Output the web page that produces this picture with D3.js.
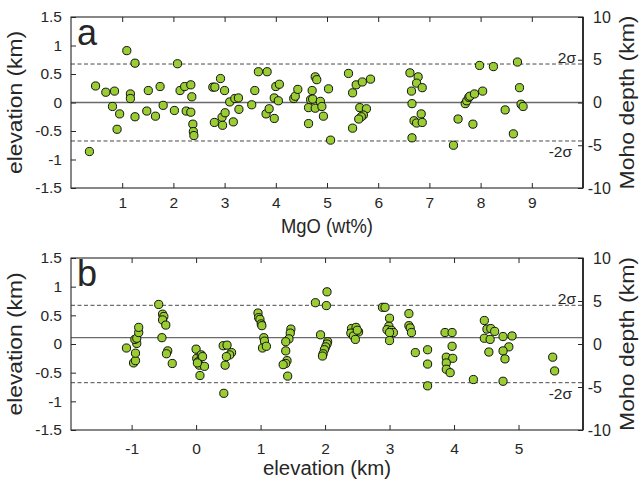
<!DOCTYPE html>
<html>
<head>
<meta charset="utf-8">
<script src="https://cdn.jsdelivr.net/npm/d3@7"></script>
<style>
  html, body { margin: 0; padding: 0; background: #fff; }
  text { font-family: Arial, "Liberation Sans", Helvetica, sans-serif; fill: #262626; }
</style>
</head>
<body>
<svg id="chart" width="639" height="480"></svg>
<script>
// Panel a: elevation residual vs MgO
const mgoX = [0.36,0.48,0.68,0.85,0.81,0.95,0.90,1.09,1.16,1.16,1.25,1.25,1.48,1.51,1.65,1.74,1.80,2.02,2.08,2.13,2.22,2.25,2.34,2.36,2.34,2.38,2.39,2.40,2.77,2.81,2.92,3.00,2.80,2.95,3.01,2.96,3.17,3.10,3.20,3.27,3.28,3.53,3.59,3.66,3.83,3.81,3.87,3.97,3.97,4.00,4.07,4.05,4.35,4.38,4.43,4.64,4.64,4.68,4.71,4.72,4.77,4.80,4.77,4.87,4.90,4.93,5.03,5.07,5.42,5.50,5.57,5.69,5.85,5.64,5.77,5.71,5.67,5.62,5.50,6.62,6.78,6.75,6.86,6.65,6.66,6.84,6.70,6.75,6.86,6.66,7.47,7.56,7.85,7.70,7.73,7.77,7.79,7.88,8.04,7.98,8.25,8.48,8.72,8.76,8.64,8.79,8.83];
const mgoElev = [-0.86,0.29,0.18,0.20,-0.07,-0.20,-0.47,0.91,0.15,0.07,0.69,-0.25,-0.15,0.21,-0.24,0.28,-0.05,-0.14,0.68,0.21,0.28,-0.15,0.31,0.10,-0.17,-0.38,-0.51,-0.58,0.27,0.27,0.42,0.21,-0.35,-0.26,-0.18,-0.40,-0.34,0.01,0.07,0.08,-0.12,-0.04,0.21,0.54,0.54,-0.20,-0.11,-0.28,0.08,0.28,0.32,0.03,0.07,0.11,0.23,-0.37,-0.09,0.05,0.21,0.06,0.45,0.40,-0.10,0.02,-0.07,-0.24,0.24,-0.66,0.51,0.17,0.31,0.36,0.41,-0.09,-0.11,-0.22,-0.25,-0.29,-0.45,0.52,0.45,0.34,0.26,0.20,-0.02,-0.20,-0.32,-0.36,-0.35,-0.62,-0.75,-0.29,-0.38,-0.02,0.03,0.09,0.11,0.15,0.20,0.65,0.63,-0.13,0.71,0.26,-0.55,-0.03,-0.07];

// Panel b: elevation residual vs elevation
const elevX = [-1.08,-0.97,-0.94,-0.94,-0.92,-0.95,-0.92,-0.89,-0.89,
  -0.58,-0.52,-0.50,-0.52,-0.47,-0.53,-0.44,-0.46,-0.37,
  0.00,0.01,0.03,0.05,0.08,0.10,0.13,0.06,0.02,
  0.42,0.48,0.55,0.52,0.47,0.45,0.43,
  0.96,0.97,0.99,1.01,1.02,1.05,1.06,1.03,1.09,
  1.47,1.46,1.44,1.39,1.39,1.41,1.39,1.35,1.42,
  1.85,2.03,2.02,1.93,2.04,2.03,2.01,1.99,1.97,1.96,
  2.41,2.48,2.52,2.40,2.44,2.47,2.50,
  2.89,2.93,3.00,2.99,2.96,3.03,3.06,3.00,3.00,
  3.30,3.30,3.32,3.34,3.40,
  3.59,3.59,3.59,
  3.86,3.97,3.97,3.88,3.98,3.88,3.88,3.94,
  4.30,
  4.47,4.51,4.57,4.63,4.47,4.56,4.54,4.76,4.90,4.85,4.76,4.79,4.76,
  5.53,5.56];
const elevResid = [-0.07,-0.33,-0.29,-0.16,0.01,0.08,0.10,0.20,0.29,
  0.69,0.52,0.48,0.42,0.33,0.11,-0.12,-0.17,-0.34,
  -0.09,-0.25,-0.31,-0.37,-0.19,-0.22,-0.39,-0.55,-0.33,
  -0.03,-0.02,-0.15,-0.19,-0.22,-0.37,-0.86,
  0.54,0.46,0.43,0.35,0.32,0.11,0.05,-0.07,-0.04,
  0.26,0.19,0.09,0.04,-0.12,-0.29,-0.34,-0.36,-0.56,
  0.72,0.91,0.67,0.16,0.04,0.00,-0.05,-0.10,-0.17,-0.21,
  0.27,0.29,0.21,0.19,0.14,0.08,0.24,
  0.64,0.64,0.45,0.31,0.25,0.24,0.20,0.20,0.06,
  0.53,0.32,0.28,0.20,-0.15,
  -0.10,-0.35,-0.73,
  0.20,0.20,-0.04,-0.23,-0.25,-0.33,-0.44,-0.50,
  -0.62,
  0.41,0.26,0.27,0.22,0.10,0.08,-0.14,0.13,0.14,-0.05,-0.12,-0.26,-0.65,
  -0.23,-0.47];

const elevTicks = [-1.5, -1, -0.5, 0, 0.5, 1, 1.5];
const mohoTicks = [-10, -5, 0, 5, 10];
const mgoTicks = [1, 2, 3, 4, 5, 6, 7, 8, 9];
const elevAxisTicks = [-1, 0, 1, 2, 3, 4, 5];
const twoSigma = 0.675;
const meanA = 0;
const meanB = 0.11;

const svg = d3.select("#chart");
const L = 71, R = 583;

function panel(cfg) {
  const g = svg.append("g");
  const x = d3.scaleLinear().domain(cfg.xDomain).range([L, R]);
  const y = d3.scaleLinear().domain([-1.5, 1.5]).range([cfg.bottom, cfg.top]);
  const yR = d3.scaleLinear().domain([-10, 10]).range([cfg.bottom, cfg.top]);

  // reference lines: ±2σ (dashed) and mean (solid)
  [twoSigma, -twoSigma].forEach(v => {
    g.append("line").attr("x1", L).attr("x2", R).attr("y1", y(v)).attr("y2", y(v))
      .attr("stroke", "#4a4a4a").attr("stroke-width", 1).attr("stroke-dasharray", "4,2.5");
  });
  g.append("line").attr("x1", L).attr("x2", R).attr("y1", y(cfg.mean)).attr("y2", y(cfg.mean))
    .attr("stroke", "#6a6a6a").attr("stroke-width", 1.3);

  // points
  g.append("g").selectAll("circle").data(cfg.xs.map((v, i) => [v, cfg.ys[i]])).join("circle")
    .attr("cx", d => x(d[0])).attr("cy", d => y(d[1])).attr("r", 4.1)
    .attr("fill", "#9acd32").attr("stroke", "#111").attr("stroke-width", 1);

  // axes with inward ticks
  const fmt = d => String(d);
  const ax = (sel) => {
    sel.select(".domain").remove();
    sel.selectAll("line").attr("stroke", "#262626");
    sel.selectAll("text").attr("font-size", "15.5px").attr("font-family", null).attr("fill", "#262626");
  };
  g.append("g").attr("transform", `translate(${L},0)`)
    .call(d3.axisLeft(y).tickValues(elevTicks).tickFormat(fmt).tickSize(-5).tickPadding(9)).call(ax);
  g.append("g").attr("transform", `translate(0,${cfg.bottom})`)
    .call(d3.axisBottom(x).tickValues(cfg.xTicks).tickFormat(fmt).tickSize(-5).tickPadding(cfg.xPad)).call(ax);
  g.append("g").attr("transform", `translate(0,${cfg.top})`)
    .call(d3.axisTop(x).tickValues(cfg.xTicks).tickFormat("").tickSize(-5)).call(ax);
  const rAxis = g.append("g").attr("transform", `translate(${R},0)`)
    .call(d3.axisRight(yR).tickValues(mohoTicks).tickFormat(fmt).tickSize(-5).tickPadding(10)).call(ax);
  rAxis.selectAll("text").attr("font-size", "16px").attr("dx", d => d < 0 ? "-0.33em" : 0);

  // frame
  g.append("rect").attr("x", L).attr("y", cfg.top).attr("width", R - L).attr("height", cfg.bottom - cfg.top)
    .attr("fill", "none").attr("stroke", "#262626").attr("stroke-width", 1.1);
  g.append("line").attr("x1", R).attr("x2", R).attr("y1", cfg.top).attr("y2", cfg.bottom)
    .attr("stroke", "#262626").attr("stroke-width", 1.8);

  // sigma labels
  g.append("text").attr("x", 576).attr("y", y(twoSigma) - 1).attr("text-anchor", "end")
    .attr("font-size", "15.5px").attr("fill", "#333").text("2σ");
  g.append("text").attr("x", 572).attr("y", y(-twoSigma) + 16).attr("text-anchor", "end")
    .attr("font-size", "15.5px").attr("fill", "#333").text("-2σ");

  // panel letter
  g.append("text").attr("x", 77).attr("y", cfg.top + 28).attr("font-size", "36px").text(cfg.letter);

  // axis titles
  const midY = (cfg.top + cfg.bottom) / 2;
  const title = (sel, size, len) => sel.attr("font-size", size + "px").attr("textLength", len)
    .attr("lengthAdjust", "spacingAndGlyphs");
  g.append("text").attr("transform", `translate(22,${midY}) rotate(-90)`).attr("text-anchor", "middle")
    .call(title, 19.5, 143).text("elevation (km)");
  g.append("text").attr("transform", `translate(634,${midY}) rotate(-90)`).attr("text-anchor", "middle")
    .call(title, 20, 174).text("Moho depth (km)");
  g.append("text").attr("x", 327).attr("y", cfg.titleY).attr("text-anchor", "middle")
    .call(title, 19.5, cfg.titleLen).text(cfg.xTitle);
}

panel({ top: 17, bottom: 188, xDomain: [0, 10], xTicks: mgoTicks, xPad: 9, xs: mgoX, ys: mgoElev,
  mean: meanA, letter: "a", xTitle: "MgO (wt%)", titleY: 233, titleLen: 92 });
panel({ top: 258, bottom: 430, xDomain: [-1.94, 6.0], xTicks: elevAxisTicks, xPad: 13, xs: elevX, ys: elevResid,
  mean: meanB, letter: "b", xTitle: "elevation (km)", titleY: 475, titleLen: 128 });
</script>
</body>
</html>
